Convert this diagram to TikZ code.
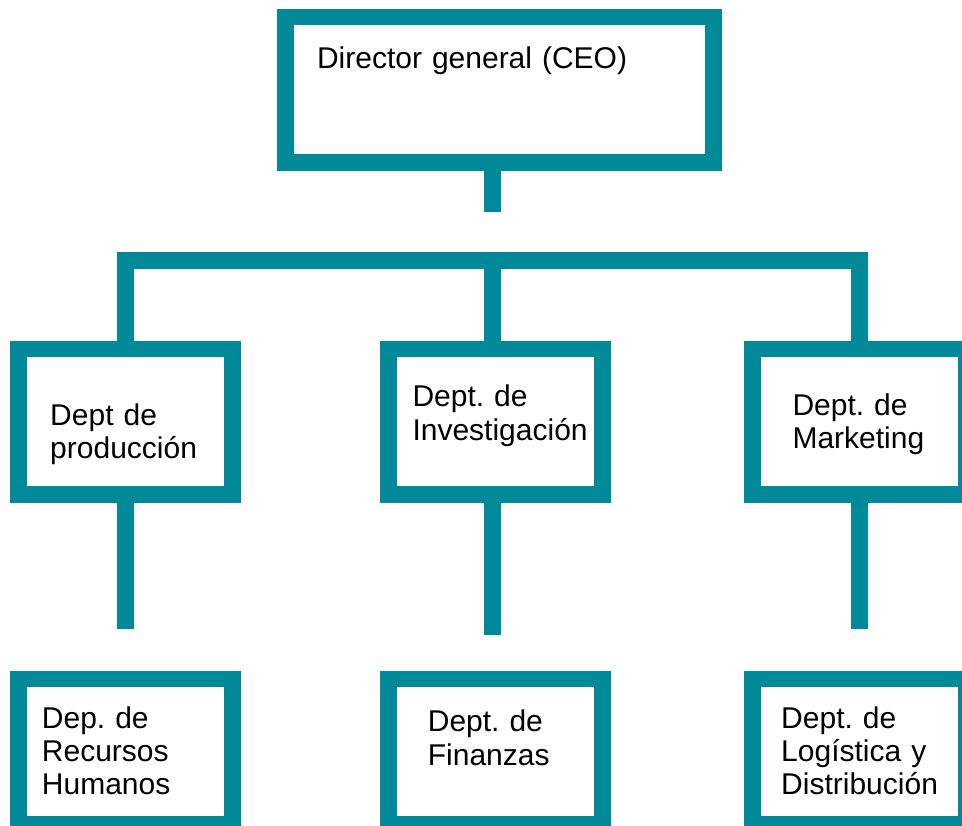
\documentclass[tikz,border=0pt]{standalone}
\usepackage{fontspec}
\setmainfont{Liberation Sans}
\usetikzlibrary{positioning,calc}
\definecolor{orgteal}{RGB}{0,138,153}
\frenchspacing

\begin{document}
\begin{tikzpicture}[x=0.75pt, y=-0.75pt, node distance=126pt,
    box/.style={draw=orgteal, line width=12.5pt, minimum width=160.5pt, minimum height=109pt, inner sep=0pt},
    conn/.style={draw=orgteal, line width=12.5pt},
    lbl/.style={anchor=base west, inner sep=0pt, align=left, text width=240pt, font=\fontsize{22.5}{25}\selectfont}]
    \useasboundingbox (0,0) rectangle (962,825);
    % CEO
    \node [box,
        minimum width=320.7pt
    ]  (CEO) at (499.5,89.5) {};
    % Departments
    \node [box]  (Prod) at (125.3,421.7) {};
    \node [box]  (Inv) at (495.3,421.7) {};
    \node [box]  (Mkt) at (859.3,421.7) {};
    % Sub departments
    \node [box,
        below=of Prod
    ]  (RRHH) {};
    \node [box,
        below=of Inv
    ]  (Fin) {};
    \node [box,
        below=of Mkt
    ]  (Log) {};

    % Labels
    \node [lbl] (CEOtext) at ($(CEO.north west)+(39.4,60)$) {Director general (CEO)};
    \node [lbl] (Prodtext) at ($(Prod.north west)+(40,84.3)$) {Dept de\\producción};
    \node [lbl] (Invtext) at ($(Inv.north west)+(32.3,66)$) {Dept. de\\Investigación};
    \node [lbl] (Mkttext) at ($(Mkt.north west)+(48.3,74.3)$) {Dept. de\\Marketing};
    \node [lbl] (RRHHtext) at ($(RRHH.north west)+(31.7,57.6)$) {Dep. de\\Recursos\\Humanos};
    \node [lbl] (Fintext) at ($(Fin.north west)+(47.6,61)$) {Dept. de\\Finanzas};
    \node [lbl] (Logtext) at ($(Log.north west)+(37,57.6)$) {Dept. de\\Logística y\\Distribución};

    % Connectors
    \coordinate (bar) at (492.3,260.7);
    \coordinate (ceoEnd) at (492.3,211.7);
    \coordinate (sideEnd) at (0,629.3);
    \coordinate (midEnd) at (0,634.7);
    \draw [conn] (ceoEnd |- CEO.south) -- (ceoEnd);
    \draw [conn] (Prod.north) |- (bar) -| (Mkt.north);
    \draw [conn] (bar) -- (bar |- Inv.north);
    \draw [conn] (Prod.south) -- (Prod.south |- sideEnd);
    \draw [conn] (bar |- Inv.south) -- (bar |- midEnd);
    \draw [conn] (Mkt.south) -- (Mkt.south |- sideEnd);
\end{tikzpicture}
\end{document}
